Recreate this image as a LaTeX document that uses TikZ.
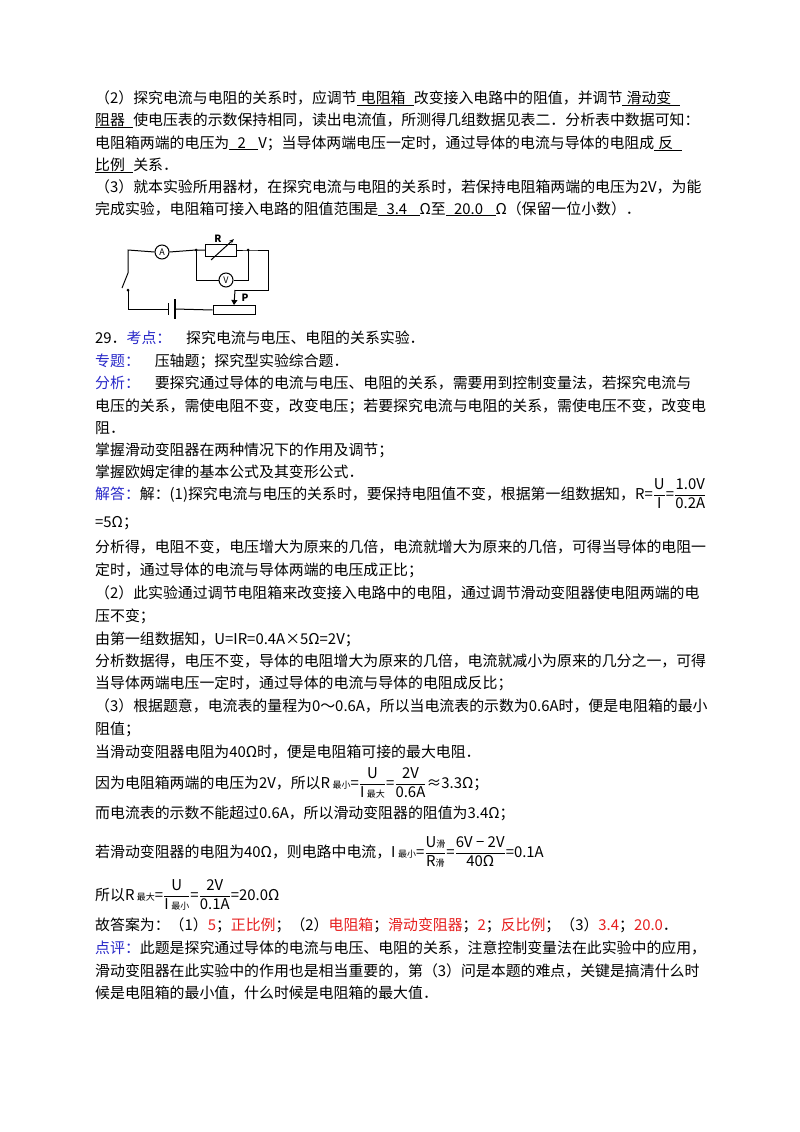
\documentclass[tikz,border=0pt]{standalone}
\usepackage{fontspec}
\setmainfont{Noto Sans CJK SC}
\usetikzlibrary{arrows.meta}
\definecolor{kblue}{RGB}{40,40,200}
\definecolor{kred}{RGB}{230,30,30}
\newcommand{\ul}[1]{\underline{\makebox[0pt][l]{\phantom{x}}\;#1\;\;}}
\newcommand{\kb}[1]{\textcolor{kblue}{#1}}
\newcommand{\kr}[1]{\textcolor{kred}{#1}}
\newcommand{\sm}[1]{\mbox{\fontsize{9}{9}\selectfont #1}}
\newcommand{\fr}[2]{$\displaystyle\frac{\mbox{#1}}{\mbox{#2}}$}
\begin{document}
\begin{tikzpicture}[x=1pt,y=-1pt,
  ln/.style={anchor=base west,inner sep=0pt,font=\fontsize{14.9}{16}\selectfont},
  wire/.style={line width=1pt},
  meter/.style={circle,draw,line width=1pt,minimum size=14pt,inner sep=0pt,font=\fontsize{9}{9}\selectfont}]
\useasboundingbox (0,0) rectangle (800,1132);
\node[ln] (l1) at (95,103) {（2）探究电流与电阻的关系时，应调节\ul{电阻箱}改变接入电路中的阻值，并调节\ul{滑动变}};
\node[ln] (l2) at (95,125) {\underline{阻器\;\;}使电压表的示数保持相同，读出电流值，所测得几组数据见表二．分析表中数据可知：};
\node[ln] (l3) at (95,148) {电阻箱两端的电压为\ul{\;2\;}V；当导体两端电压一定时，通过导体的电流与导体的电阻成\ul{反}};
\node[ln] (l4) at (95,170) {\underline{比例\;\;}关系．};
\node[ln] (l5) at (95,192) {（3）就本实验所用器材，在探究电流与电阻的关系时，若保持电阻箱两端的电压为2V，为能};
\node[ln] (l6) at (95,214) {完成实验，电阻箱可接入电路的阻值范围是\ul{\;3.4\;}Ω至\ul{\;20.0\;}Ω（保留一位小数）．};
% circuit
\node[meter] (A) at (162,252) {A};
\node[meter] (V) at (226,280) {V};
\node[draw,line width=1pt,minimum width=31pt,minimum height=12pt,inner sep=0pt] (R) at (221,250) {};
\node[draw,line width=1pt,minimum width=42pt,minimum height=9pt,inner sep=0pt] (Rh) at (234,310) {};
\coordinate (j1) at (196,250);
\coordinate (j2) at (248,250);
\coordinate (tl) at (128,250);
\coordinate (s1) at (128,273);
\coordinate (s2) at (128,290);
\coordinate (bl) at (128,309);
\coordinate (b1) at (168,309);
\coordinate (b2) at (175,309);
\draw[wire] (A.west) -- (tl) -- (s1);
\draw[wire] (s1) -- (122,288);
\fill (s2) circle (1.5);
\draw[wire] (s2) -- (bl) -- (b1);
\draw[wire] (b1) ++(0,-6) -- ++(0,12);
\draw[line width=2pt] (b2) ++(0,-10) -- ++(0,20);
\draw[wire] (b2) -- (Rh.west);
\draw[wire] (A.east) -- (j1) -- (R.west);
\draw[wire] (R.east) -- (j2) -- (268,250) -- (268,290) -- (235,290);
\draw[wire,-{Triangle[length=5pt,width=6pt]}] (235,290) -- (Rh.north);
\node[font=\bfseries\itshape\fontsize{10}{10}\selectfont,inner sep=0pt] (P) at (245,298) {P};
\draw[wire] (j1) -- (196,280) -- (V.west);
\draw[wire] (V.east) -- (248,280) -- (j2);
\draw[wire,-{Stealth[length=5pt]}] (211,260) -- (234,239);
\node[font=\bfseries\itshape\fontsize{10}{10}\selectfont,inner sep=0pt] (Rl) at (218,239) {R};
\fill (j1) circle (1.5); \fill (j2) circle (1.5);
% answer
\node[ln] (m1) at (95,343) {29．\kb{考点：}\quad 探究电流与电压、电阻的关系实验．};
\node[ln] (m2) at (95,366) {\kb{专题：}\quad 压轴题；探究型实验综合题．};
\node[ln] (m3) at (95,388) {\kb{分析：}\quad 要探究通过导体的电流与电压、电阻的关系，需要用到控制变量法，若探究电流与};
\node[ln] (m4) at (95,411) {电压的关系，需使电阻不变，改变电压；若要探究电流与电阻的关系，需使电压不变，改变电};
\node[ln] (m5) at (95,433) {阻．};
\node[ln] (m6) at (95,455) {掌握滑动变阻器在两种情况下的作用及调节；};
\node[ln] (m7) at (95,477) {掌握欧姆定律的基本公式及其变形公式．};
\node[ln] (m8) at (95,499) {\kb{解答：}解：(1)探究电流与电压的关系时，要保持电阻值不变，根据第一组数据知，R=\fr{U}{I}=\fr{1.0V}{0.2A}};
\node[ln] (m9) at (95,527) {=5Ω；};
\node[ln] (n1) at (95,552) {分析得，电阻不变，电压增大为原来的几倍，电流就增大为原来的几倍，可得当导体的电阻一};
\node[ln] (n2) at (95,575) {定时，通过导体的电流与导体两端的电压成正比；};
\node[ln] (n3) at (95,598) {（2）此实验通过调节电阻箱来改变接入电路中的电阻，通过调节滑动变阻器使电阻两端的电};
\node[ln] (n4) at (95,621) {压不变；};
\node[ln] (n5) at (95,644) {由第一组数据知，U=IR=0.4A×5Ω=2V；};
\node[ln] (n6) at (95,666) {分析数据得，电压不变，导体的电阻增大为原来的几倍，电流就减小为原来的几分之一，可得};
\node[ln] (n7) at (95,688) {当导体两端电压一定时，通过导体的电流与导体的电阻成反比；};
\node[ln] (n8) at (95,711) {（3）根据题意，电流表的量程为0～0.6A，所以当电流表的示数为0.6A时，便是电阻箱的最小};
\node[ln] (n9) at (95,734) {阻值；};
\node[ln] (p1) at (95,757) {当滑动变阻器电阻为40Ω时，便是电阻箱可接的最大电阻．};
\node[ln] (p2) at (95,788) {因为电阻箱两端的电压为2V，所以R\,\sm{最小}=\fr{U}{I\,\sm{最大}}=\fr{2V}{0.6A}≈3.3Ω；};
\node[ln] (p3) at (95,818) {而电流表的示数不能超过0.6A，所以滑动变阻器的阻值为3.4Ω；};
\node[ln] (p4) at (95,857) {若滑动变阻器的电阻为40Ω，则电路中电流，I\,\sm{最小}=\fr{U\sm{滑}}{R\sm{滑}}=\fr{6V − 2V}{40Ω}=0.1A};
\node[ln] (p5) at (95,900) {所以R\,\sm{最大}=\fr{U}{I\,\sm{最小}}=\fr{2V}{0.1A}=20.0Ω};
\node[ln] (q1) at (95,930) {故答案为：（1）\kr{5}；\kr{正比例}；（2）\kr{电阻箱}；\kr{滑动变阻器}；\kr{2}；\kr{反比例}；（3）\kr{3.4}；\kr{20.0}．};
\node[ln] (q2) at (95,953) {\kb{点评：}此题是探究通过导体的电流与电压、电阻的关系，注意控制变量法在此实验中的应用，};
\node[ln] (q3) at (95,976) {滑动变阻器在此实验中的作用也是相当重要的，第（3）问是本题的难点，关键是搞清什么时};
\node[ln] (q4) at (95,998) {候是电阻箱的最小值，什么时候是电阻箱的最大值．};
\end{tikzpicture}
\end{document}
